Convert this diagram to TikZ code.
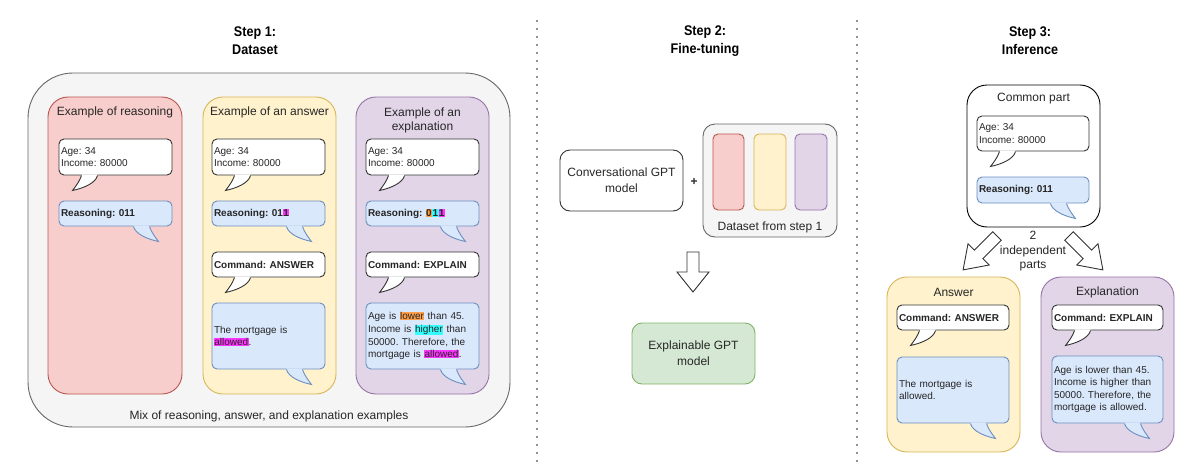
\documentclass[tikz,border=0pt]{standalone}
\usepackage{fontspec}
\setmainfont{Liberation Sans}
\newfontfamily\titlefont[FakeStretch=0.9]{Liberation Sans}
\usetikzlibrary{calc}
\frenchspacing
\definecolor{tc}{HTML}{262626}
\definecolor{od}{HTML}{666666}
\definecolor{of}{HTML}{F5F5F5}
\definecolor{rd}{HTML}{B85450}
\definecolor{rf}{HTML}{F8CECC}
\definecolor{yd}{HTML}{D6B656}
\definecolor{yf}{HTML}{FFF2CC}
\definecolor{pd}{HTML}{9673A6}
\definecolor{pf}{HTML}{E1D5E7}
\definecolor{bl}{HTML}{6C8EBF}
\definecolor{bf}{HTML}{DAE8FC}
\definecolor{gd}{HTML}{82B366}
\definecolor{gf}{HTML}{D5E8D4}
\definecolor{wl}{HTML}{333333}
\definecolor{hlM}{HTML}{FF33FF}
\definecolor{hlO}{HTML}{FF9F4A}
\definecolor{hlC}{HTML}{33FFFF}
\newcommand\hl[2]{{\setlength{\fboxsep}{0.4pt}\colorbox{#1}{#2}}}
\newcommand\tailL[2]{%
 \begin{scope}[shift={(#1.south west)}]
 \fill[#2fill] (23,-1.2) -- (23,0) .. controls (21,6) and (17,11) .. (14,15) .. controls (24,13) and (37,8) .. (39,0) -- (39,-1.2) -- cycle;
 \draw[#2line] (23,0) .. controls (21,6) and (17,11) .. (14,15) .. controls (24,13) and (37,8) .. (39,0);
 \end{scope}}
\newcommand\tailR[2]{%
 \begin{scope}[shift={(#1.south east)}]
 \fill[#2fill] (-23,-1.2) -- (-23,0) .. controls (-21,6) and (-17,11) .. (-14,15) .. controls (-24,13) and (-37,8) .. (-39,0) -- (-39,-1.2) -- cycle;
 \draw[#2line] (-23,0) .. controls (-21,6) and (-17,11) .. (-14,15) .. controls (-24,13) and (-37,8) .. (-39,0);
 \end{scope}}
\begin{document}
\begin{tikzpicture}[x=1pt,y=-1pt,
 tx/.style={font=\fontsize{12}{14}\selectfont, text=tc, inner sep=0pt, align=center},
 ttl/.style={font=\titlefont\bfseries\fontsize{14}{18}\selectfont, text=black, inner sep=0pt, align=center},
 sm/.style={font=\fontsize{10}{12.6}\selectfont},
 bubw/.style={draw=wl, fill=white, rounded corners=5pt, line width=0.9pt, inner sep=2pt, align=left, sm, text=tc, minimum width=113pt, text width=109pt},
 bubb/.style={bubw, draw=bl, fill=bf},
 wfill/.style={fill=white}, wline/.style={draw=wl, line width=0.9pt},
 bfill/.style={fill=bf}, bline/.style={draw=bl, line width=0.9pt},
 outer/.style={draw=od, fill=of, rounded corners=45pt, line width=0.9pt, minimum width=482pt, minimum height=354pt, inner sep=0pt},
 panel/.style={rounded corners=20pt, line width=0.9pt, minimum width=133pt, minimum height=297pt, inner sep=0pt},
 mbox/.style={rounded corners=10pt, line width=0.9pt, minimum width=123pt, minimum height=61pt, inner sep=0pt, align=center, font=\fontsize{12}{16}\selectfont, text=tc},
 mini/.style={rounded corners=5pt, line width=0.9pt, minimum width=32pt, minimum height=76pt, inner sep=0pt},
 blockarrow/.style={draw=wl, fill=white, line width=0.9pt, line join=miter},
 sep/.style={draw=black!85, line width=1.7pt, line cap=round, dash pattern=on 0pt off 8pt}]
\fill[white] (0,0) rectangle (1200,471);
\useasboundingbox (0,0) rectangle (1200,471);

% separators
\coordinate (s1a) at (537,21); \coordinate (s1b) at (537,461);
\coordinate (s2a) at (857,21); \coordinate (s2b) at (857,461);
\draw[sep] (s1a) -- (s1b);
\draw[sep] (s2a) -- (s2b);

% titles
\node[ttl] (t1) at (255,41) {Step 1:\\Dataset};
\node[ttl] (t2) at (705,41) {Step 2:\\Fine-tuning};
\node[ttl] (t3) at (1030,41) {Step 3:\\Inference};

% ---------- Step 1 ----------
\node[outer] (ds) at (269,250) {};
\node[panel, draw=rd, fill=rf, minimum width=134pt] (pr) at (115,245.5) {};
\node[panel, draw=yd, fill=yf] (py) at (269.5,245.5) {};
\node[panel, draw=pd, fill=pf] (pp) at (422.5,245.5) {};
\node[tx] (prt) at (115,112) {Example of reasoning};
\node[tx] (pyt) at (269.5,112) {Example of an answer};
\node[tx] (ppt) at (422.5,120) {Example of an\\explanation};
\node[tx] (dst) at (269,416) {Mix of reasoning, answer, and explanation examples};

% red
\node[bubw, minimum height=36pt] (rw) at (115.5,157) {Age: 34\\Income: 80000};
\tailL{rw}{w}
\node[bubb, minimum height=25pt] (rb) at (115.5,213.5) {\textbf{Reasoning: 011}};
\tailR{rb}{b}
% yellow
\node[bubw, minimum height=36pt] (yw) at (268.5,157) {Age: 34\\Income: 80000};
\tailL{yw}{w}
\node[bubb, minimum height=25pt] (yb) at (268.5,213.5) {\textbf{Reasoning: 01\hl{hlM}{1}}};
\tailR{yb}{b}
\node[bubw, minimum height=25pt] (yc) at (268.5,264.5) {\textbf{Command: ANSWER}};
\tailL{yc}{w}
\node[bubb, minimum height=66pt] (ya) at (268.5,336) {The mortgage is\\\hl{hlM}{allowed}.};
\tailR{ya}{b}
% purple
\node[bubw, minimum height=36pt] (pw) at (422.5,157) {Age: 34\\Income: 80000};
\tailL{pw}{w}
\node[bubb, minimum height=25pt] (pb) at (422.5,213.5) {\textbf{Reasoning: \hl{hlO}{0}\hl{hlC}{1}\hl{hlM}{1}}};
\tailR{pb}{b}
\node[bubw, minimum height=25pt] (pc) at (422.5,264.5) {\textbf{Command: EXPLAIN}};
\tailL{pc}{w}
\node[bubb, minimum height=66pt] (pe) at (422.5,336) {Age is \hl{hlO}{lower} than 45. Income is \hl{hlC}{higher} than 50000. Therefore, the mortgage is \hl{hlM}{allowed}.};
\tailR{pe}{b}

% ---------- Step 2 ----------
\node[mbox, draw=wl, fill=white] (conv) at (621.5,180.5) {Conversational GPT\\model};
\node[tx, font=\bfseries\fontsize{12}{14}\selectfont] (plus) at (694,182) {+};
\node[draw=od, fill=of, rounded corners=12pt, line width=0.9pt, minimum width=134pt, minimum height=113pt, inner sep=0pt] (dset) at (770,180.5) {};
\node[mini, draw=rd, fill=rf, minimum width=31pt] (m1) at (728.5,172) {};
\node[mini, draw=yd, fill=yf] (m2) at (770,172) {};
\node[mini, draw=pd, fill=pf] (m3) at (811,172) {};
\node[tx] (dsett) at (770,227) {Dataset from step 1};
\draw[blockarrow] (687,252) -- (699,252) -- (699,272) -- (709,272) -- (693,292) -- (677,272) -- (687,272) -- cycle;
\node[mbox, draw=gd, fill=gf] (egpt) at (693.5,353.5) {Explainable GPT\\model};

% ---------- Step 3 ----------
\node[draw=black, fill=white, rounded corners=20pt, line width=0.9pt, minimum width=133pt, minimum height=142pt, inner sep=0pt] (cp) at (1033.5,156) {};
\node[tx] (cpt) at (1033.5,99) {Common part};
\node[bubw, minimum height=35pt, minimum width=112pt, text width=108pt] (cw) at (1033,133.5) {Age: 34\\Income: 80000};
\tailL{cw}{w}
\node[bubb, minimum height=26pt, minimum width=112pt, text width=108pt] (cb) at (1033,190) {\textbf{Reasoning: 011}};
\tailR{cb}{b}
\node[tx, font=\fontsize{12}{14.5}\selectfont] (ind) at (1033,251.5) {2\\independent\\parts};
\draw[blockarrow] (992.8,231.8) -- (1001.2,240.2) -- (982.8,258.6) -- (989.2,265.0) -- (963.1,269.9) -- (968.0,243.8) -- (974.4,250.2) -- cycle;
\draw[blockarrow] (1073.2,231.8) -- (1064.8,240.2) -- (1083.2,258.6) -- (1076.8,265.0) -- (1102.9,269.9) -- (1098.0,243.8) -- (1091.6,250.2) -- cycle;

\node[panel, draw=yd, fill=yf, minimum height=175pt] (pa) at (953.5,364.5) {};
\node[tx] (pat) at (953.5,292) {Answer};
\node[bubw, minimum height=25pt, minimum width=112pt, text width=108pt] (ac) at (953,317.5) {\textbf{Command: ANSWER}};
\tailL{ac}{w}
\node[bubb, minimum height=66pt, minimum width=112pt, text width=108pt] (aa) at (953,390) {The mortgage is\\allowed.};
\tailR{aa}{b}

\node[panel, draw=pd, fill=pf, minimum height=175pt] (px) at (1107.5,364.5) {};
\node[tx] (pxt) at (1107.5,292) {Explanation};
\node[bubw, minimum height=25pt, minimum width=111pt, text width=107pt] (ec) at (1107.5,317.5) {\textbf{Command: EXPLAIN}};
\tailL{ec}{w}
\node[bubb, minimum height=67pt, minimum width=111pt, text width=107pt] (ee) at (1107.5,389.5) {Age is lower than 45. Income is higher than 50000. Therefore, the mortgage is allowed.};
\tailR{ee}{b}
\end{tikzpicture}
\end{document}
